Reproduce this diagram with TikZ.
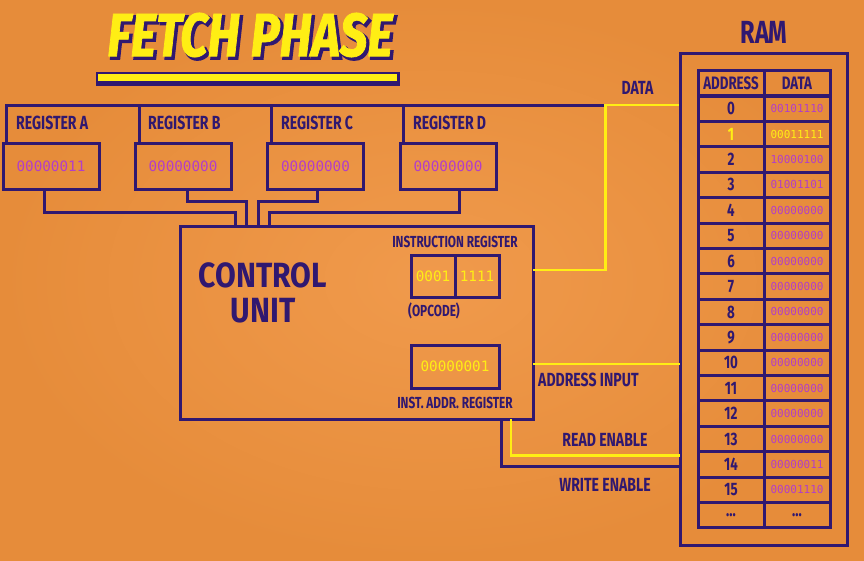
\documentclass[tikz,border=0pt]{standalone}
\usepackage{fontspec}
\setmainfont{Fira Sans}
\newfontfamily\labfont[FakeStretch=0.74]{Fira Sans}
\newfontfamily\cufont[FakeStretch=0.86]{Fira Sans}
\newfontfamily\ttlfont[FakeStretch=0.8,FakeBold=1.2]{Fira Sans}
\newfontfamily\ttlshfont[FakeStretch=0.8,FakeBold=4]{Fira Sans}
\newfontfamily\digfont{DejaVu Sans Mono}
\definecolor{pur}{RGB}{48,24,112}
\definecolor{yel}{RGB}{255,238,20}
\definecolor{mag}{RGB}{178,62,200}
\definecolor{bgin}{RGB}{240,154,76}
\definecolor{bgout}{RGB}{230,140,58}
\begin{document}
\begin{tikzpicture}[x=1pt,y=-1pt,
  wire/.style={draw=pur,line width=3pt},
  ywire/.style={draw=yel,line width=2.8pt},
  box/.style={draw=pur,line width=3pt,rectangle,inner sep=0pt},
  lab/.style={text=pur,inner sep=0pt,font=\labfont\bfseries\fontsize{19}{19}\selectfont},
  slab/.style={text=pur,inner sep=0pt,font=\labfont\bfseries\fontsize{16}{16}\selectfont},
  val/.style={font=\digfont\fontsize{14.3}{14.3}\selectfont},
  rval/.style={font=\digfont\fontsize{11}{11}\selectfont},
  cell/.style={box,minimum width=66pt,minimum height=25.41pt,font=\labfont\bfseries\fontsize{18}{18}\selectfont},
  ttl/.style={inner sep=0pt,font=\ttlfont\bfseries\itshape\fontsize{61}{61}\selectfont},
  ttlsh/.style={inner sep=0pt,font=\ttlshfont\bfseries\itshape\fontsize{61}{61}\selectfont}]
\useasboundingbox (0,0) rectangle (864,560);
\shade[inner color=bgin,outer color=bgout] (0,0) rectangle (864,560);

% title
\node[ttlsh,text=pur] (titlesh) at (252.5,37.5) {FETCH PHASE};
\node[ttl,text=yel] (title) at (250,35) {FETCH PHASE};
\fill[pur] (96,72) rectangle (399.5,86);
\fill[yel] (97.5,73.5) rectangle (397,80.5);

% registers
\node[box,minimum width=96pt,minimum height=46pt,val,text=mag] (regA) at (51,166) {00000011};
\node[box,minimum width=96pt,minimum height=46pt,val,text=mag] (regB) at (183,166) {00000000};
\node[box,minimum width=96pt,minimum height=46pt,val,text=mag] (regC) at (315.5,166) {00000000};
\node[box,minimum width=96pt,minimum height=46pt,val,text=mag] (regD) at (448,166) {00000000};
\node[lab,anchor=west] (labA) at (16,123) {REGISTER A};
\node[lab,anchor=west] (labB) at (148,123) {REGISTER B};
\node[lab,anchor=west] (labC) at (281,123) {REGISTER C};
\node[lab,anchor=west] (labD) at (413,123) {REGISTER D};

% RAM
\node[box,minimum width=167pt,minimum height=492pt] (ram) at (763.5,299) {};
\node[text=pur,inner sep=0pt,font=\labfont\bfseries\fontsize{32}{32}\selectfont] (ramt) at (764,32.5) {RAM};
\node[cell,text=pur] (hA) at (731,83.5) {ADDRESS};
\node[cell,text=pur] (hD) at (797,83.5) {DATA};
\foreach \i/\v/\ca/\cd in {0/00101110/pur/mag,1/00011111/yel/yel,2/10000100/pur/mag,3/01001101/pur/mag,
  4/00000000/pur/mag,5/00000000/pur/mag,6/00000000/pur/mag,7/00000000/pur/mag,8/00000000/pur/mag,
  9/00000000/pur/mag,10/00000000/pur/mag,11/00000000/pur/mag,12/00000000/pur/mag,13/00000000/pur/mag,
  14/00000011/pur/mag,15/00001110/pur/mag}{
  \node[cell,text=\ca] (a\i) at (731,{108.7+25.41*\i}) {\i};
  \node[cell,rval,text=\cd] (d\i) at (797,{108.7+25.41*\i}) {\v};
}
\node[cell,text=pur] (a16) at (731,{108.7+25.41*16}) {...};
\node[cell,text=pur] (d16) at (797,{108.7+25.41*16}) {...};

% control unit
\node[box,minimum width=353pt,minimum height=193pt] (cu) at (356.5,322.5) {};
\node[text=pur,inner sep=0pt,align=center,font=\cufont\bfseries\fontsize{35}{35}\selectfont] (cut) at (263,292.5) {CONTROL\\UNIT};
\node[slab] (irl) at (455,242) {INSTRUCTION REGISTER};
\node[box,minimum width=44pt,minimum height=42pt,val,text=yel] (irA) at (433,276) {0001};
\node[box,minimum width=44pt,minimum height=42pt,val,text=yel] (irB) at (477,276) {1111};
\node[slab,anchor=base] (opc) at (434,316.5) {(OPCODE)};
\node[box,minimum width=88pt,minimum height=43pt,val,text=yel] (iar) at (455,366.5) {00000001};
\node[slab] (iarl) at (455,402.5) {INST. ADDR. REGISTER};

% coordinates on box edges
\coordinate (cuA) at (235,226);
\coordinate (cuB) at (246,226);
\coordinate (cuC) at (258,226);
\coordinate (cuD) at (269,226);
\coordinate (dTurn) at (605.5,105);
\coordinate (dIn) at (533,270);
\coordinate (aiOut) at (533,364);
\coordinate (aiIn) at (680,364);
\coordinate (reOut) at (511,419);
\coordinate (reIn) at (680,455.5);
\coordinate (weOut) at (501,419);
\coordinate (weIn) at (680,466);

% register bus
\draw[wire] (regA.north west) ++(5,0) |- (dTurn);
\draw[wire] (regB.north west) ++(6,0) -- ++(0,-38);
\draw[wire] (regC.north west) ++(5,0) -- ++(0,-38);
\draw[wire] (regD.north west) ++(5,0) -- ++(0,-38);
% registers to control unit
\draw[wire] (regA.south) ++(-7,0) -- ++(0,22) -| (cuA);
\draw[wire] (regB.south) ++(4,0) -- ++(0,11) -| (cuB);
\draw[wire] (regC.south) ++(1.5,0) -- ++(0,11) -| (cuC);
\draw[wire] (regD.south) ++(11,0) -- ++(0,22) -| (cuD);

% data line
\draw[ywire] (dIn) -| (dTurn) -- (dTurn -| ram.west);
\node[lab] (datal) at (637.5,87.5) {DATA};
% address input
\draw[ywire] (aiOut) -- (aiIn);
\node[lab,anchor=west] (ail) at (538,380) {ADDRESS INPUT};
% read enable
\draw[ywire] (reOut) |- (reIn);
\node[lab] (rel) at (605,440) {READ ENABLE};
% write enable
\draw[wire] (weOut) |- (weIn);
\node[lab] (wel) at (605,485) {WRITE ENABLE};
\end{tikzpicture}
\end{document}
